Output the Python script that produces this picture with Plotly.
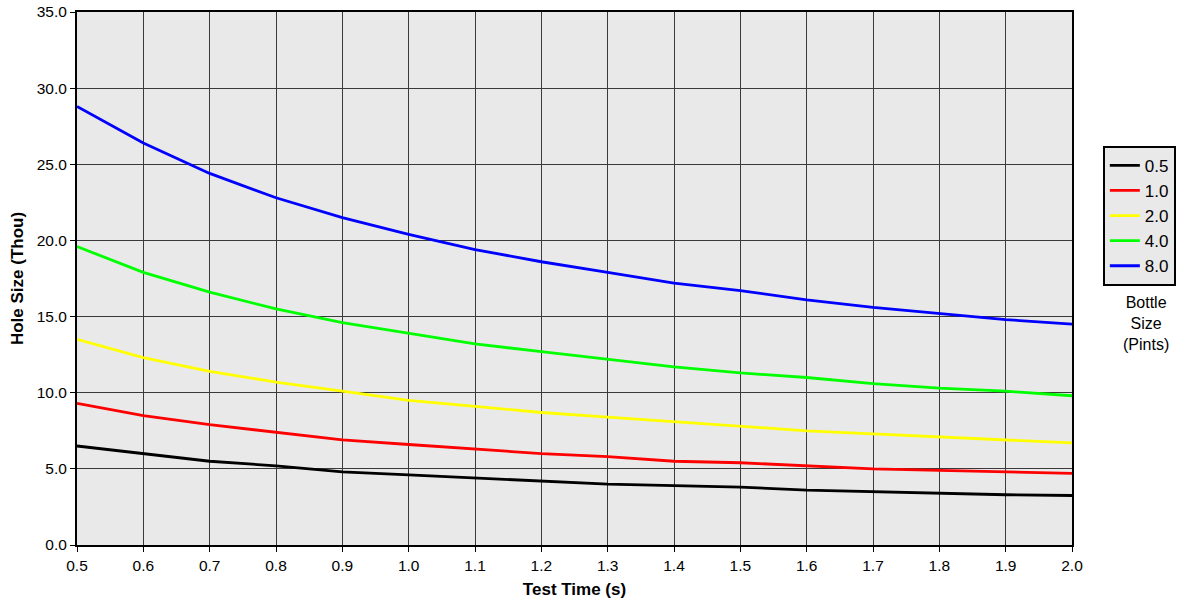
import plotly.graph_objects as go

test_time = [0.5, 0.6, 0.7, 0.8, 0.9, 1.0, 1.1, 1.2, 1.3, 1.4, 1.5, 1.6, 1.7, 1.8, 1.9, 2.0]

bottle_sizes = ["0.5", "1.0", "2.0", "4.0", "8.0"]
colors = ["#000000", "#ff0000", "#ffff00", "#00ff00", "#0000ff"]

hole_05 = [6.5, 6.0, 5.5, 5.2, 4.8, 4.6, 4.4, 4.2, 4.0, 3.9, 3.8, 3.6, 3.5, 3.4, 3.3, 3.25]
hole_10 = [9.3, 8.5, 7.9, 7.4, 6.9, 6.6, 6.3, 6.0, 5.8, 5.5, 5.4, 5.2, 5.0, 4.9, 4.8, 4.7]
hole_20 = [13.5, 12.3, 11.4, 10.7, 10.1, 9.5, 9.1, 8.7, 8.4, 8.1, 7.8, 7.5, 7.3, 7.1, 6.9, 6.7]
hole_40 = [19.6, 17.9, 16.6, 15.5, 14.6, 13.9, 13.2, 12.7, 12.2, 11.7, 11.3, 11.0, 10.6, 10.3, 10.1, 9.8]
hole_80 = [28.8, 26.4, 24.4, 22.8, 21.5, 20.4, 19.4, 18.6, 17.9, 17.2, 16.7, 16.1, 15.6, 15.2, 14.8, 14.5]

series = [hole_05, hole_10, hole_20, hole_40, hole_80]

fig = go.Figure()
for name, col, ys in zip(bottle_sizes, colors, series):
    fig.add_trace(go.Scatter(x=test_time, y=ys, mode="lines", name=name,
                             line=dict(color=col, width=2.8)))

font_family = "Liberation Sans, Arial, sans-serif"

fig.update_layout(
    width=1192, height=607,
    margin=dict(l=77, r=120, t=12, b=62),
    paper_bgcolor="white",
    plot_bgcolor="#e9e9e9",
    font=dict(family=font_family, size=15.5, color="black"),
    showlegend=True,
    legend=dict(x=1.031, y=0.749, xanchor="left", yanchor="top",
                bgcolor="#e9e9e9", bordercolor="black", borderwidth=2,
                font=dict(size=17), tracegroupgap=0, itemwidth=30),
    xaxis=dict(range=[0.5, 2.0], dtick=0.1, tick0=0.5, tickformat=".1f",
               showgrid=True, gridcolor="#3a3a3a", gridwidth=1,
               showline=True, linecolor="black", linewidth=2, mirror=True,
               ticks="outside", ticklen=5, tickcolor="black",
               zeroline=False, automargin=False, tickfont=dict(size=15.5),
               title=dict(text="<b>Test Time (s)</b>", font=dict(size=17), standoff=11)),
    yaxis=dict(range=[0, 35], dtick=5, tickformat=".1f",
               showgrid=True, gridcolor="#3a3a3a", gridwidth=1,
               showline=True, linecolor="black", linewidth=2, mirror=True,
               ticks="outside", ticklen=5, tickcolor="black",
               zeroline=False, automargin=False, tickfont=dict(size=15.5),
               title=dict(text="<b>Hole Size (Thou)</b>", font=dict(size=17), standoff=9)),
    annotations=[dict(text="Bottle<br>Size<br>(Pints)", x=1.074, y=0.4165,
                      xref="paper", yref="paper", xanchor="center", yanchor="middle",
                      showarrow=False, font=dict(size=16))],
)

fig.write_html("out.html",
               config={"displayModeBar": False},
               post_script="document.body.style.margin='0';document.body.style.padding='0';")
